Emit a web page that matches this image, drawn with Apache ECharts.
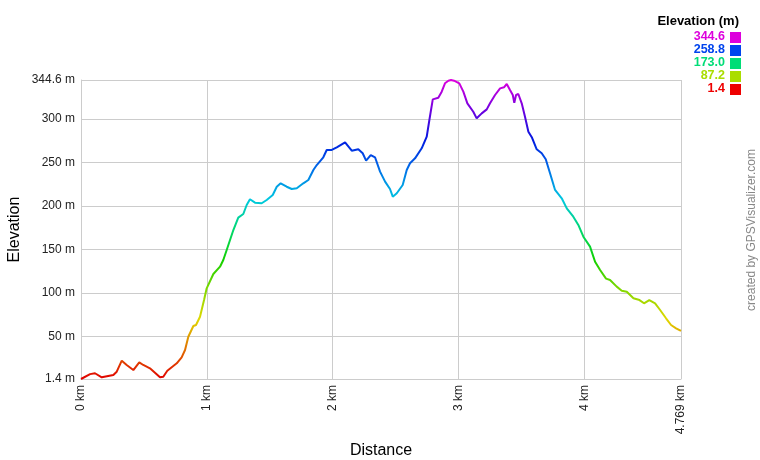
<!DOCTYPE html>
<html>
<head>
<meta charset="utf-8">
<script src="https://cdn.jsdelivr.net/npm/echarts@6/dist/echarts.min.js"></script>
<style>html,body{margin:0;padding:0;background:#fff}#c{width:760px;height:460px}</style>
</head>
<body>
<div id="c"></div>
<script>
var distKm = [0,0.072,0.111,0.165,0.257,0.284,0.324,0.363,0.416,0.463,0.495,0.548,0.628,0.654,0.686,0.761,0.800,0.827,0.853,0.893,0.914,0.946,0.978,0.999,1.052,1.105,1.131,1.158,1.211,1.250,1.290,1.317,1.343,1.383,1.436,1.476,1.524,1.556,1.587,1.635,1.675,1.715,1.767,1.807,1.847,1.874,1.926,1.953,1.993,2.033,2.099,2.152,2.204,2.239,2.266,2.303,2.337,2.377,2.417,2.456,2.478,2.510,2.557,2.589,2.615,2.655,2.708,2.748,2.769,2.796,2.840,2.867,2.893,2.920,2.941,2.965,3.007,3.039,3.071,3.118,3.145,3.185,3.225,3.251,3.291,3.331,3.362,3.384,3.410,3.432,3.444,3.458,3.476,3.503,3.529,3.556,3.583,3.622,3.662,3.694,3.728,3.768,3.821,3.861,3.913,3.953,3.993,4.046,4.086,4.126,4.173,4.205,4.258,4.298,4.338,4.391,4.439,4.475,4.517,4.563,4.603,4.650,4.690,4.730,4.769];
var elevM = [1.4,7,8,3.3,6,9.8,22.4,17.5,11.7,20.5,17.5,13.7,3.3,4,10.9,19.4,26.3,34.7,49.9,62.2,63.4,72.9,92,105.5,121.9,130.3,138,149.5,172.4,186.6,190.8,201.1,207.7,203.8,203.1,206.9,212.6,222.1,226,222.1,219.5,220.3,226,229.8,241.3,247,255.9,264.3,264.3,267.3,273.1,263.4,265.1,260.5,252,258.5,255.9,239.4,227.9,219.5,210.7,214.6,224.1,241.3,249,254.7,266.2,279.5,298.7,322.4,324.3,331.2,340.8,343.8,344.6,343.8,340.8,331.2,317.8,308.2,300.6,306.3,310.9,317.8,327.4,335,336.2,340,333.1,327.4,318.5,327.4,328.5,317.8,302.5,285.3,278.9,265.1,260.5,253.6,237.5,218.4,208.8,197.3,187.7,178.2,164.7,153.3,136.0,126.5,116.6,115.1,107.4,102.8,101.6,94.0,92,88.3,92,88.3,80.6,71.1,63.4,59.6,56.5];
var xTicks = [0,1,2,3,4,4.769];
var yTicks = [1.4,50,100,150,200,250,300,344.6];
var legendValues = [344.6,258.8,173.0,87.2,1.4];
var legendColors = ['#dd00dd','#0044ee','#00dd77','#aadd00','#ee0000'];
var elevMin = 1.4, elevMax = 344.6;

var seriesData = distKm.map(function(d,i){return [d, elevM[i]];});

var FONT = '"Liberation Sans", Arial, sans-serif';
var graphics = [{
  type:'text', x:739, y:21,
  style:{text:'Elevation (m)', font:'bold 13px ' + FONT, fill:'#000', align:'right', verticalAlign:'middle'}
}];
legendValues.forEach(function(v,i){
  var yc = 37 + i*13;
  graphics.push({type:'text', x:725, y:yc,
    style:{text:v.toFixed(1), font:'bold 12.5px ' + FONT, fill:legendColors[i], align:'right', verticalAlign:'middle'}});
  graphics.push({type:'rect', shape:{x:730,y:yc-5,width:11,height:11}, style:{fill:legendColors[i]}});
});
graphics.push({type:'text', x:752, y:230, rotation:Math.PI/2,
  style:{text:'created by GPSVisualizer.com', font:'12px ' + FONT, fill:'#888', align:'center', verticalAlign:'middle'}});

var chart = echarts.init(document.getElementById('c'));
chart.setOption({
  animation:false,
  backgroundColor:'#fff',
  grid:{left:81,right:79,top:80,bottom:81,containLabel:false, outerBoundsMode:'none'},
  visualMap:{show:false, type:'continuous', dimension:1, min:elevMin, max:elevMax, seriesIndex:0,
    inRange:{color:['#e00000','#e07000','#e0d800','#80d800','#10d000','#00d870','#00c8e0','#0070e8','#0018e0','#7000e0','#dd00dd']}},
  xAxis:{type:'value', min:0, max:4.769,
    name:'Distance', nameLocation:'middle', nameGap:64, nameMoveOverlap:false,
    nameTextStyle:{fontSize:16, color:'#000', fontFamily:FONT},
    axisLine:{show:true, lineStyle:{color:'#ccc'}},
    axisTick:{show:false, customValues:xTicks},
    axisLabel:{customValues:xTicks, rotate:90, margin:6, fontSize:12, color:'#222', fontFamily:FONT,
      formatter:function(v){return (Math.abs(v-4.769)<1e-6? '4.769' : String(v)) + ' km';}},
    splitLine:{show:true, lineStyle:{color:'#ccc', width:1}}
  },
  yAxis:{type:'value', min:elevMin, max:elevMax,
    name:'Elevation', nameLocation:'middle', nameGap:58, nameRotate:90, nameMoveOverlap:false,
    nameTextStyle:{fontSize:16, color:'#000', fontFamily:FONT},
    axisLine:{show:true, lineStyle:{color:'#ccc'}},
    axisTick:{show:false, customValues:yTicks},
    axisLabel:{customValues:yTicks, margin:6, fontSize:12, color:'#222', fontFamily:FONT,
      formatter:function(v){return v + ' m';}},
    splitLine:{show:true, lineStyle:{color:'#ccc', width:1}}
  },
  graphic:graphics,
  series:[{type:'line', data:seriesData, showSymbol:false, smooth:false, lineStyle:{width:2}}]
});
</script>
</body>
</html>
